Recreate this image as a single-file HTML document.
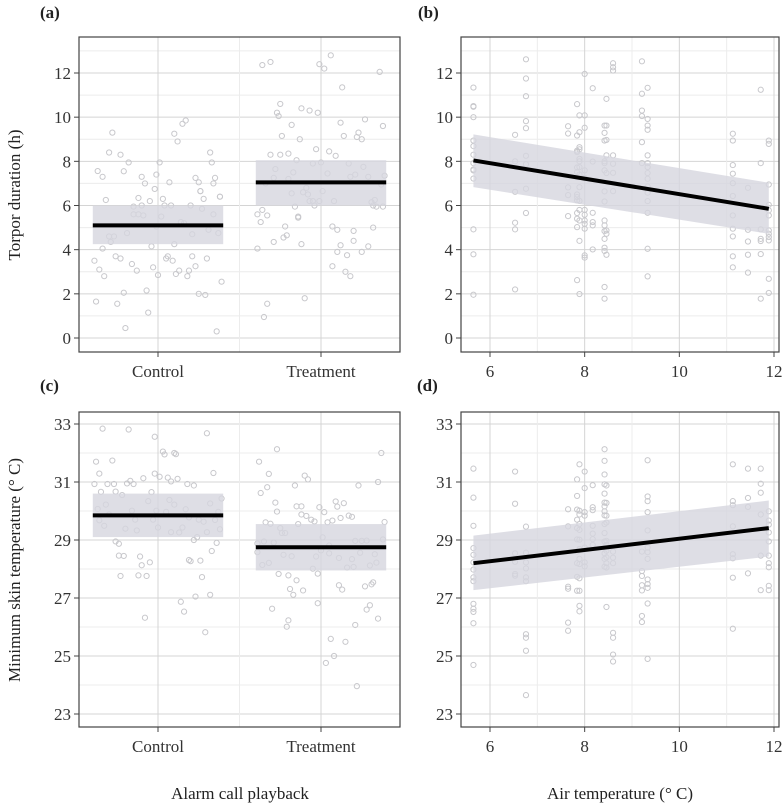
<!DOCTYPE html>
<html><head><meta charset="utf-8"><style>
html,body{margin:0;padding:0;background:#fff;}
svg{display:block;font-family:"Liberation Serif",serif;}
</style></head><body>
<svg id="fig" width="784" height="804" viewBox="0 0 784 804"></svg>
<script>
// ---------- data ----------
const categories = ["Control","Treatment"];
const torporYTicks = [0,2,4,6,8,10,12];
const skinYTicks = [23,25,27,29,31,33];
const airXTicks = [6,8,10,12];
// panel a: mean, ci low, ci high per category
const torporMeans = [5.1, 7.05];
const torporLow = [4.25, 6.0];
const torporHigh = [6.0, 8.05];
const skinMeans = [29.85, 28.75];
const skinLow = [29.1, 27.95];
const skinHigh = [30.6, 29.55];
// regression lines [xStart,xEnd], fitted y, ci
const fitX = [5.65, 11.89];
const torporFit = [8.04, 5.85];
const torporFitLow = [6.83, 4.72];
const torporFitHigh = [9.22, 7.03];
const skinFit = [28.2, 29.41];
const skinFitLow = [27.27, 28.43];
const skinFitHigh = [29.15, 30.36];
// jittered points: [category index + offset, value]
const torporCtrl = [[-0.37,7.56],[-0.34,7.3],[-0.3,8.4],[-0.28,9.3],[-0.23,8.3],[-0.21,7.55],[-0.18,7.95],[-0.1,7.3],[-0.08,7.0],[-0.02,6.75],[-0.01,7.4],[0.01,7.95],[0.07,7.05],[0.1,9.25],[0.12,8.9],[0.15,9.7],[0.17,9.85],[0.23,7.25],[0.25,7.05],[0.26,6.65],[0.32,8.4],[0.33,7.95],[0.35,7.25],[0.34,7.0],[0.38,6.4],[-0.32,6.25],[-0.12,6.34],[-0.15,5.95],[-0.1,6.0],[-0.05,6.2],[0.03,6.3],[0.04,6.0],[0.08,6.0],[0.2,6.0],[0.26,6.65],[0.28,6.3],[0.27,5.85],[0.34,5.6],[0.38,6.4],[-0.15,5.6],[-0.12,5.6],[-0.09,5.55],[0.02,5.5],[-0.01,5.05],[0.14,5.25],[0.16,5.2],[0.31,4.9],[0.37,4.75],[0.21,4.7],[-0.19,4.75],[-0.3,4.6],[-0.27,4.6],[-0.29,4.35],[-0.34,4.05],[-0.04,4.15],[0.1,4.25],[-0.39,3.5],[-0.26,3.7],[-0.23,3.6],[-0.16,3.35],[-0.36,3.1],[-0.33,2.8],[-0.13,3.05],[-0.03,3.2],[0.0,2.85],[0.05,3.6],[0.09,3.5],[0.06,3.7],[0.11,2.9],[0.13,3.05],[0.18,2.8],[0.19,3.05],[0.23,3.25],[0.21,3.7],[0.3,3.6],[0.39,2.55],[-0.21,2.05],[-0.07,2.15],[0.25,2.0],[0.29,1.95],[-0.38,1.65],[-0.25,1.55],[-0.06,1.15],[-0.2,0.45],[0.36,0.3]];
const torporTreat = [[-0.36,12.36],[-0.31,12.5],[-0.01,12.4],[0.02,12.2],[0.06,12.8],[0.36,12.05],[0.13,11.35],[-0.25,10.6],[-0.27,10.2],[-0.26,10.05],[-0.12,10.4],[-0.07,10.3],[-0.02,10.2],[-0.18,9.65],[0.12,9.75],[0.27,9.9],[0.38,9.6],[-0.24,9.15],[-0.13,9.0],[0.14,9.15],[0.23,9.3],[0.22,9.1],[0.25,9.0],[-0.03,8.55],[0.05,8.45],[0.09,8.25],[-0.31,8.3],[-0.25,8.3],[-0.2,8.35],[-0.15,8.05],[-0.05,7.9],[0.0,7.95],[0.17,7.9],[0.26,7.75],[-0.28,7.65],[-0.17,7.5],[0.04,7.45],[-0.29,7.25],[-0.2,7.2],[0.18,7.3],[0.21,7.4],[0.29,7.3],[0.39,7.35],[-0.34,7.0],[0.37,6.95],[-0.09,6.8],[-0.18,6.55],[-0.11,6.6],[-0.08,6.5],[0.01,6.65],[-0.07,6.2],[-0.05,6.2],[-0.01,6.2],[0.08,6.2],[-0.16,5.95],[-0.04,6.0],[0.31,6.15],[0.33,6.25],[0.32,6.0],[0.34,5.95],[0.38,5.95],[-0.39,5.6],[-0.36,5.8],[-0.33,5.55],[-0.14,5.5],[-0.37,5.25],[-0.22,5.05],[-0.14,5.45],[-0.21,4.65],[-0.23,4.55],[-0.29,4.35],[-0.12,4.25],[-0.39,4.05],[0.07,5.05],[0.1,4.9],[0.2,4.85],[0.2,4.4],[0.12,4.2],[0.1,3.9],[0.16,3.75],[0.25,3.9],[0.29,4.15],[0.32,5.0],[0.07,3.25],[0.15,3.0],[0.18,2.8],[-0.33,1.55],[-0.35,0.95],[-0.1,1.8]];
const skinCtrl = [[-0.34,32.84],[-0.18,32.81],[-0.02,32.56],[0.3,32.68],[-0.38,31.7],[-0.28,31.74],[0.03,32.05],[0.04,31.95],[0.1,32.0],[0.11,31.96],[-0.36,31.29],[-0.39,30.93],[-0.31,30.93],[-0.27,30.93],[-0.35,30.66],[-0.26,30.67],[-0.22,30.55],[-0.19,30.95],[-0.17,31.04],[-0.15,30.93],[-0.09,31.13],[-0.02,31.29],[0.01,31.18],[0.06,31.15],[0.08,31.02],[0.12,31.11],[0.18,30.93],[0.22,30.88],[0.34,31.31],[-0.04,30.65],[-0.37,30.07],[-0.32,30.22],[-0.3,29.88],[-0.36,29.68],[-0.33,29.49],[-0.2,29.39],[-0.16,30.01],[-0.14,29.7],[-0.13,29.33],[-0.06,30.34],[-0.03,29.7],[-0.01,30.01],[0.0,29.43],[0.05,29.97],[0.07,30.38],[0.1,30.22],[0.08,29.27],[0.13,29.26],[0.15,29.43],[0.17,30.06],[0.19,29.78],[0.25,29.7],[0.28,29.63],[0.32,30.26],[0.3,29.27],[0.35,29.69],[0.37,29.97],[0.39,30.43],[0.38,29.37],[0.22,29.0],[0.24,29.1],[-0.26,28.95],[-0.24,28.87],[0.36,28.9],[0.33,28.62],[-0.24,28.46],[-0.21,28.45],[-0.11,28.43],[-0.1,28.13],[-0.05,28.23],[0.19,28.31],[0.2,28.27],[0.26,28.29],[-0.23,27.76],[-0.12,27.78],[-0.07,27.76],[0.27,27.72],[0.23,27.05],[0.32,27.11],[0.14,26.87],[0.16,26.53],[-0.08,26.32],[0.29,25.82]];
const skinTreat = [[-0.27,32.13],[0.37,32.0],[-0.38,31.7],[-0.32,31.28],[-0.1,31.22],[-0.08,31.09],[-0.16,30.88],[-0.33,30.82],[-0.37,30.62],[0.23,30.88],[0.35,31.0],[-0.28,30.29],[-0.27,29.98],[-0.15,30.16],[-0.12,30.16],[-0.01,30.13],[0.02,29.96],[0.09,30.33],[0.1,30.15],[0.14,30.27],[-0.12,29.88],[-0.09,29.83],[-0.06,29.7],[-0.04,29.64],[0.04,29.61],[0.07,29.67],[0.12,29.76],[0.17,29.84],[0.19,29.8],[0.39,29.62],[-0.34,29.61],[-0.31,29.56],[-0.14,29.55],[-0.25,29.41],[-0.24,29.24],[-0.22,29.24],[0.01,29.09],[-0.39,28.88],[-0.35,28.95],[-0.29,28.91],[0.05,28.81],[0.21,28.97],[0.25,28.97],[0.28,28.98],[0.38,29.02],[-0.39,28.58],[-0.23,28.49],[-0.18,28.44],[-0.03,28.43],[0.0,28.64],[0.05,28.54],[0.11,28.38],[0.19,28.34],[0.24,28.56],[0.33,28.51],[-0.36,28.14],[-0.32,28.21],[-0.05,28.01],[-0.02,27.84],[0.16,28.05],[0.2,28.07],[0.3,28.12],[0.34,28.22],[-0.26,27.83],[-0.2,27.78],[-0.15,27.61],[-0.19,27.31],[-0.17,27.11],[-0.11,27.26],[0.11,27.44],[0.13,27.29],[0.27,27.4],[0.31,27.47],[0.32,27.54],[-0.02,26.82],[-0.3,26.63],[-0.2,26.23],[-0.21,26.01],[0.3,26.75],[0.28,26.6],[0.35,26.29],[0.21,26.07],[0.06,25.59],[0.15,25.49],[0.08,25.0],[0.03,24.76],[0.22,23.96]];
// panel b points grouped by air temperature
const airTemps = [5.65,6.53,6.76,7.65,7.84,7.89,8.0,8.17,8.42,8.46,8.6,9.21,9.33,11.13,11.45,11.72,11.89];
const torporByTemp = [[11.34,10.5,10.47,10.0,8.94,8.69,8.3,7.92,7.63,7.59,7.22,4.92,3.79,1.96],[9.2,8.0,6.62,5.22,4.92,2.2],[12.62,11.75,10.95,9.82,9.5,8.25,7.87,6.76,5.66],[9.59,9.26,6.82,6.47,5.52],[10.59,9.17,8.48,8.42,7.72,7.51,6.5,6.38,6.23,5.66,5.4,5.02,2.62],[10.08,9.32,8.64,8.54,8.11,8.0,7.74,7.4,6.83,6.21,5.8,5.32,4.4,1.99],[11.96,10.08,9.52,7.59,7.25,5.8,5.58,5.32,5.17,4.95,3.74,3.64],[11.31,7.99,5.67,5.25,5.1,4.01],[9.62,9.29,8.94,8.0,7.92,7.59,6.64,6.18,5.32,5.1,4.84,4.49,4.09,3.94,2.31,1.78],[10.83,9.62,8.97,8.27,7.47,4.87,4.72,3.77],[12.44,12.26,12.11,8.27,7.89,7.48,6.65],[12.53,11.06,10.3,10.05,8.87,7.92],[11.33,9.92,9.62,9.43,8.27,7.92,7.74,7.47,7.21,6.86,6.58,6.2,5.67,4.04,2.79],[9.25,8.94,7.83,7.44,7.01,6.43,5.55,4.95,4.6,3.7,3.2],[6.8,4.9,4.37,3.77,2.96],[11.24,7.92,4.92,4.49,4.39,3.8,1.78],[8.94,8.79,6.95,6.03,5.78,5.55,4.87,4.72,4.57,4.42,2.68,2.04]];
const skinByTemp = [[31.46,30.46,29.49,28.72,28.49,28.23,27.98,27.71,27.58,26.8,26.63,26.52,26.13,24.69],[31.36,30.25,28.54,28.25,27.83,27.77],[29.46,28.56,28.23,28.02,27.71,27.58,25.75,25.63,25.18,23.65],[30.06,29.47,27.39,27.32,26.15,25.87],[31.09,30.52,30.05,29.7,29.41,29.02,28.6,28.2,27.73,27.25],[31.61,30.01,29.88,29.55,29.35,29.01,28.69,28.35,28.17,27.68,27.25,26.73,26.54],[31.36,30.79,29.96,29.84,28.74,28.23,28.09],[30.89,30.13,30.03,29.49,29.22,29.03,28.83],[32.13,31.73,31.26,30.92,30.6,30.29,30.16,29.99,29.85,29.55,29.24,28.95,28.54,28.35,28.08],[30.88,30.28,29.84,29.6,28.97,28.83,28.63,28.4,28.2,28.05,26.69],[28.6,28.39,28.2,25.8,25.63,25.05,24.81],[28.6,27.93,27.76,27.44,27.26,26.38,26.17],[31.75,30.5,30.34,29.96,29.33,28.74,28.58,28.35,27.64,27.48,27.35,26.81,24.9],[31.61,30.34,30.2,29.47,28.51,28.37,27.7,25.94],[31.46,30.45,30.14,27.85],[31.46,30.94,30.63,29.88,28.46,27.27],[29.99,29.67,29.53,29.26,28.95,28.46,28.2,28.06,27.42,27.27]];

// ---------- drawing ----------
const NS = "http://www.w3.org/2000/svg";
const svg = document.getElementById('fig');
function mk(tag, attrs, parent){ const e=document.createElementNS(NS,tag); for(const k in attrs) e.setAttribute(k,attrs[k]); (parent||svg).appendChild(e); return e; }
function lin(d0,d1,r0,r1){ return v => r0 + (v-d0)*(r1-r0)/(d1-d0); }

const L = {a:[79,400], b:[461,779]};
const T = {top:[37,352], bot:[412,727]};
const yTorp = lin(0,12,338,73);
const ySkin = lin(23,33,714,424);
const xCat = lin(1,2,158,321);
const xAir = lin(6,12,490,774);

function frame(x0,x1,y0,y1,name){
  const g = mk('g',{});
  
  
  return g;
}
function gridH(g,x0,x1,ys,cls){ ys.forEach(y=>{ const l=mk('line',{x1:x0,x2:x1,y1:y,y2:y,stroke:cls?'#d4d4d4':'#ececec','stroke-width':1},g);   }); }
function gridV(g,y0,y1,xs,cls){ xs.forEach(x=>{ const l=mk('line',{x1:x,x2:x,y1:y0,y2:y1,stroke:cls?'#d4d4d4':'#ececec','stroke-width':1},g);   }); }
function border(g,x0,x1,y0,y1){ const r=mk('rect',{x:x0,y:y0,width:x1-x0,height:y1-y0,fill:'none',stroke:'#444','stroke-width':1.2},g);   }
function yTicks(g,x0,ticks,sc){ ticks.forEach(t=>{ const y=sc(t); mk('line',{x1:x0-5,x2:x0,y1:y,y2:y,stroke:'#444','stroke-width':1},g); const tx=mk('text',{x:x0-8,y:y+6,'text-anchor':'end','font-size':17,fill:'#333'},g); tx.textContent=t;   }); }
function xTicks(g,y1,ticks,labels,sc){ ticks.forEach((t,i)=>{ const x=sc(t); mk('line',{x1:x,x2:x,y1:y1,y2:y1+5,stroke:'#444','stroke-width':1},g); const tx=mk('text',{x:x,y:y1+25,'text-anchor':'middle','font-size':17,fill:'#333'},g); tx.textContent=labels[i];   }); }
function pt(g,x,y){ const c=mk('circle',{cx:x,cy:y,r:2.6,fill:'none',stroke:'#c8c8cc','stroke-width':1},g);   }

function catPanel(name,xr,yr,sc,yt,minor,means,low,high,pts){
  const [x0,x1]=xr,[y0,y1]=yr;
  const g=frame(x0,x1,y0,y1,name);
  gridH(g,x0,x1,minor.map(sc),false);
  gridH(g,x0,x1,yt.map(sc),true);
  gridV(g,y0,y1,[xCat(1.5)],false);
  gridV(g,y0,y1,[xCat(1),xCat(2)],true);
  pts.forEach((arr,ci)=>arr.forEach(p=>pt(g,xCat(ci+1+p[0]),sc(p[1]))));
  means.forEach((m,i)=>{
    const b=mk('rect',{x:xCat(i+1-0.4),y:sc(high[i]),width:xCat(i+1.4)-xCat(i+0.6),height:sc(low[i])-sc(high[i]),fill:'#d6d6de','fill-opacity':0.8},g);
     
    const l=mk('line',{x1:xCat(i+1-0.4),x2:xCat(i+1.4),y1:sc(m),y2:sc(m),stroke:'#000','stroke-width':4},g);
     
  });
  border(g,x0,x1,y0,y1);
  yTicks(g,x0,yt,sc);
  xTicks(g,y1,[1,2],categories,xCat);
}
function airPanel(name,xr,yr,sc,yt,minor,byTemp,fit,fl,fh){
  const [x0,x1]=xr,[y0,y1]=yr;
  const g=frame(x0,x1,y0,y1,name);
  gridH(g,x0,x1,minor.map(sc),false);
  gridH(g,x0,x1,yt.map(sc),true);
  gridV(g,y0,y1,[7,9,11].map(xAir),false);
  gridV(g,y0,y1,airXTicks.map(xAir),true);
  byTemp.forEach((vals,i)=>vals.forEach(v=>pt(g,xAir(airTemps[i]),sc(v))));
  const xa=xAir(fitX[0]), xb=xAir(fitX[1]);
  const band=mk('polygon',{points:`${xa},${sc(fh[0])} ${xb},${sc(fh[1])} ${xb},${sc(fl[1])} ${xa},${sc(fl[0])}`,fill:'#d6d6de','fill-opacity':0.8},g);
   
  const l=mk('line',{x1:xa,x2:xb,y1:sc(fit[0]),y2:sc(fit[1]),stroke:'#000','stroke-width':4},g);
   
  border(g,x0,x1,y0,y1);
  yTicks(g,x0,yt,sc);
  xTicks(g,y1,airXTicks,airXTicks,xAir);
}
catPanel('panel-a',L.a,T.top,yTorp,torporYTicks,[1,3,5,7,9,11,13],torporMeans,torporLow,torporHigh,[torporCtrl,torporTreat]);
airPanel('panel-b',L.b,T.top,yTorp,torporYTicks,[1,3,5,7,9,11,13],torporByTemp,torporFit,torporFitLow,torporFitHigh);
catPanel('panel-c',L.a,T.bot,ySkin,skinYTicks,[24,26,28,30,32],skinMeans,skinLow,skinHigh,[skinCtrl,skinTreat]);
airPanel('panel-d',L.b,T.bot,ySkin,skinYTicks,[24,26,28,30,32],skinByTemp,skinFit,skinFitLow,skinFitHigh);

function txt(s,attrs,name){ const t=mk('text',attrs); t.textContent=s;   return t; }
txt('(a)',{x:40,y:18,'font-size':17,'font-weight':'bold',fill:'#222'},'panel-label-a');
txt('(b)',{x:418,y:18,'font-size':17,'font-weight':'bold',fill:'#222'},'panel-label-b');
txt('(c)',{x:40,y:391,'font-size':17,'font-weight':'bold',fill:'#222'},'panel-label-c');
txt('(d)',{x:417,y:391,'font-size':17,'font-weight':'bold',fill:'#222'},'panel-label-d');
txt('Torpor duration (h)',{x:0,y:0,'font-size':17,fill:'#222','text-anchor':'middle',transform:'translate(20,195) rotate(-90)'},'y-axis-title-torpor');
txt('Minimum skin temperature (° C)',{x:0,y:0,'font-size':17,fill:'#222','text-anchor':'middle',transform:'translate(20,570) rotate(-90)'},'y-axis-title-skin');
txt('Alarm call playback',{x:240,y:799,'font-size':17,fill:'#222','text-anchor':'middle'},'x-axis-title-playback');
txt('Air temperature (° C)',{x:620,y:799,'font-size':17,fill:'#222','text-anchor':'middle'},'x-axis-title-air');
</script>
</body></html>
